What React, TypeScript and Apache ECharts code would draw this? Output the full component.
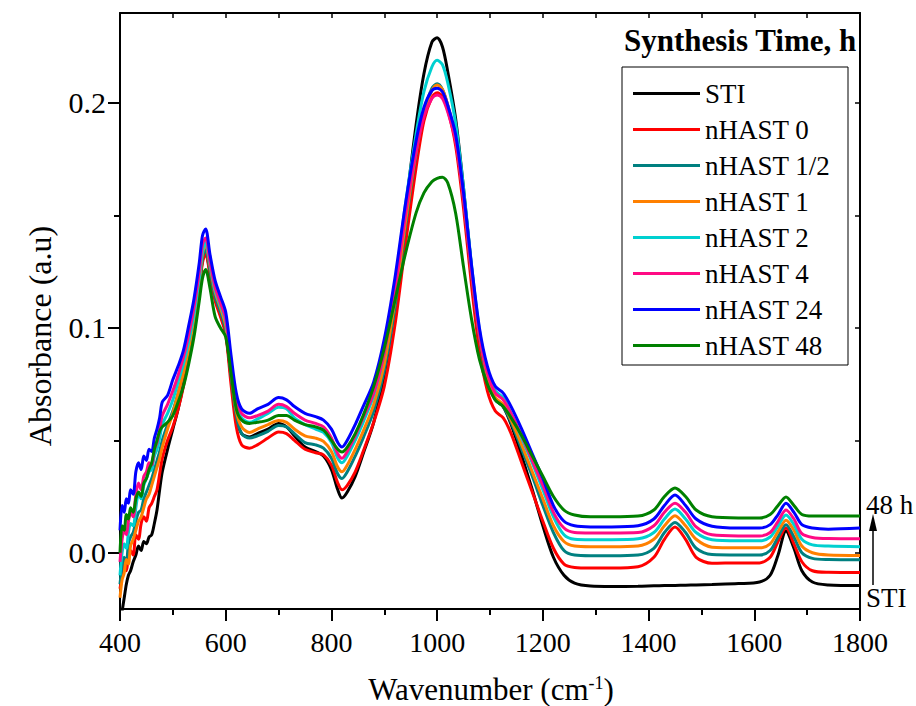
import React, { useEffect, useRef } from "react";
import * as echarts from "echarts";

// Wavenumber grid (cm-1)
const wavenumbers = [
  400, 404, 408, 412, 416, 420, 425, 430, 435, 440, 445, 450, 455, 460, 465, 470, 475, 480,
  490, 500, 510, 520, 530, 540, 550,
  556, 562, 570, 580, 590, 600, 610, 620, 630, 645, 660, 680, 700,
  715, 730, 750, 770, 785, 800, 812, 820, 830, 845, 860, 880, 900,
  920, 940, 960, 975, 990, 1000, 1010, 1020, 1035, 1050, 1065, 1080, 1095,
  1110, 1125, 1140, 1160, 1180, 1200, 1220, 1240, 1260, 1290, 1330, 1380,
  1410, 1430, 1450, 1470, 1490, 1520, 1570, 1610, 1630, 1645, 1660, 1675, 1690, 1710, 1740, 1800,
];

const sti = [
  -0.032, -0.026, -0.020, -0.014, -0.010, -0.008, -0.004, -0.001, 0.003, 0.001, 0.005, 0.004, 0.007, 0.008, 0.013, 0.019, 0.028, 0.036,
  0.046, 0.055, 0.064, 0.075, 0.088, 0.102, 0.118,
  0.130, 0.134, 0.125, 0.113, 0.106, 0.098, 0.078, 0.060, 0.053, 0.0515, 0.053, 0.055, 0.0575,
  0.056, 0.052, 0.047, 0.045, 0.043, 0.037, 0.028, 0.0243, 0.027, 0.034, 0.044, 0.058, 0.079,
  0.111, 0.152, 0.190, 0.213, 0.227, 0.229, 0.225, 0.214, 0.193, 0.162, 0.127, 0.097, 0.078,
  0.068, 0.065, 0.057, 0.043, 0.028, 0.012, -0.002, -0.010, -0.0135, -0.0148, -0.0150, -0.0149,
  -0.0147, -0.0146, -0.0145, -0.0144, -0.0143, -0.0141, -0.0137, -0.0130, -0.010, -0.001, 0.0097, 0.002, -0.008, -0.0130, -0.0143, -0.0146,
];

const nhast0 = [
  -0.016, -0.010, -0.004, -0.008, -0.002, 0.001, -0.001, 0.008, 0.006, 0.013, 0.016, 0.014, 0.020, 0.022, 0.025, 0.028, 0.035, 0.042,
  0.050, 0.056, 0.064, 0.074, 0.087, 0.101, 0.117,
  0.129, 0.133, 0.124, 0.112, 0.105, 0.097, 0.075, 0.056, 0.048, 0.0465, 0.048, 0.051, 0.0537,
  0.053, 0.050, 0.046, 0.0445, 0.0435, 0.039, 0.031, 0.028, 0.030, 0.036, 0.045, 0.058, 0.074,
  0.101, 0.137, 0.171, 0.192, 0.2025, 0.2045, 0.203, 0.197, 0.181, 0.153, 0.119, 0.090, 0.072,
  0.063, 0.060, 0.053, 0.040, 0.027, 0.014, 0.002, -0.005, -0.0065, -0.0068, -0.0068, -0.0062,
  -0.002, 0.006, 0.0115, 0.006, -0.002, -0.0047, -0.0045, -0.0045, -0.002, 0.005, 0.0110, 0.004, -0.004, -0.008, -0.0087, -0.0088,
];

const nhastHalf = [
  -0.014, -0.006, -0.002, -0.004, 0.004, 0.007, 0.009, 0.014, 0.018, 0.019, 0.024, 0.027, 0.030, 0.033, 0.037, 0.041, 0.045, 0.050,
  0.057, 0.063, 0.071, 0.080, 0.090, 0.103, 0.119,
  0.131, 0.135, 0.126, 0.114, 0.107, 0.099, 0.079, 0.061, 0.053, 0.051, 0.052, 0.054, 0.0566,
  0.056, 0.053, 0.049, 0.048, 0.0465, 0.042, 0.035, 0.033, 0.036, 0.043, 0.051, 0.063, 0.081,
  0.109, 0.145, 0.177, 0.196, 0.2065, 0.2085, 0.206, 0.199, 0.184, 0.157, 0.124, 0.096, 0.078,
  0.068, 0.065, 0.058, 0.046, 0.034, 0.021, 0.009, 0.001, -0.001, -0.0013, -0.0013, -0.001,
  0.002, 0.009, 0.0135, 0.009, 0.002, -0.0008, -0.001, -0.001, 0.001, 0.007, 0.0125, 0.007, 0.000, -0.0025, -0.003, -0.0031,
];

const nhast1 = [
  -0.020, -0.012, -0.009, -0.003, -0.005, 0.003, 0.006, 0.010, 0.014, 0.016, 0.020, 0.024, 0.026, 0.030, 0.034, 0.038, 0.042, 0.047,
  0.055, 0.062, 0.071, 0.080, 0.091, 0.104, 0.120,
  0.133, 0.137, 0.128, 0.116, 0.109, 0.101, 0.081, 0.063, 0.056, 0.0535, 0.055, 0.057, 0.0588,
  0.058, 0.055, 0.052, 0.051, 0.0495, 0.045, 0.038, 0.036, 0.039, 0.046, 0.054, 0.066, 0.084,
  0.112, 0.147, 0.178, 0.196, 0.2055, 0.208, 0.206, 0.199, 0.184, 0.158, 0.125, 0.097, 0.079,
  0.069, 0.066, 0.059, 0.048, 0.036, 0.024, 0.012, 0.005, 0.003, 0.0027, 0.0027, 0.003,
  0.006, 0.012, 0.0165, 0.012, 0.006, 0.0025, 0.0022, 0.0022, 0.004, 0.0095, 0.0145, 0.010, 0.003, 0.000, -0.001, -0.0012,
];

const nhast2 = [
  -0.010, 0.000, 0.004, 0.002, 0.009, 0.013, 0.012, 0.020, 0.026, 0.024, 0.030, 0.033, 0.036, 0.037, 0.043, 0.046, 0.051, 0.057,
  0.062, 0.068, 0.076, 0.084, 0.094, 0.106, 0.122,
  0.134, 0.138, 0.129, 0.117, 0.110, 0.103, 0.084, 0.067, 0.060, 0.058, 0.0595, 0.062, 0.0647,
  0.064, 0.060, 0.057, 0.055, 0.0535, 0.049, 0.042, 0.040, 0.043, 0.050, 0.058, 0.070, 0.089,
  0.118, 0.155, 0.186, 0.205, 0.216, 0.219, 0.217, 0.209, 0.191, 0.162, 0.128, 0.099, 0.081,
  0.072, 0.069, 0.062, 0.051, 0.040, 0.028, 0.016, 0.008, 0.006, 0.0058, 0.0058, 0.0062,
  0.009, 0.015, 0.0195, 0.015, 0.009, 0.0058, 0.0053, 0.0053, 0.007, 0.012, 0.0168, 0.0125, 0.006, 0.0035, 0.003, 0.0027,
];

const nhast4 = [
  -0.004, 0.006, 0.010, 0.008, 0.014, 0.018, 0.016, 0.026, 0.031, 0.028, 0.034, 0.036, 0.040, 0.039, 0.046, 0.049, 0.055, 0.061,
  0.066, 0.072, 0.079, 0.087, 0.097, 0.109, 0.125,
  0.137, 0.140, 0.130, 0.118, 0.111, 0.104, 0.085, 0.068, 0.062, 0.060, 0.061, 0.063, 0.066,
  0.065, 0.062, 0.059, 0.0575, 0.056, 0.051, 0.044, 0.042, 0.045, 0.052, 0.060, 0.071, 0.089,
  0.116, 0.150, 0.178, 0.194, 0.202, 0.2035, 0.202, 0.196, 0.183, 0.157, 0.125, 0.097, 0.080,
  0.071, 0.068, 0.062, 0.052, 0.041, 0.030, 0.018, 0.011, 0.009, 0.0088, 0.0088, 0.009,
  0.012, 0.018, 0.022, 0.018, 0.0115, 0.008, 0.0075, 0.0075, 0.009, 0.014, 0.019, 0.015, 0.0085, 0.0068, 0.0063, 0.0062,
];

const nhast24 = [
  0.010, 0.021, 0.018, 0.024, 0.022, 0.028, 0.026, 0.036, 0.040, 0.037, 0.043, 0.041, 0.046, 0.045, 0.051, 0.055, 0.060, 0.067,
  0.070, 0.077, 0.083, 0.090, 0.101, 0.113, 0.129,
  0.141, 0.144, 0.133, 0.121, 0.114, 0.107, 0.088, 0.071, 0.064, 0.062, 0.064, 0.066, 0.069,
  0.068, 0.065, 0.062, 0.0605, 0.059, 0.055, 0.049, 0.047, 0.050, 0.057, 0.065, 0.076, 0.095,
  0.122, 0.155, 0.183, 0.198, 0.2055, 0.2065, 0.205, 0.199, 0.186, 0.160, 0.128, 0.100, 0.083,
  0.074, 0.071, 0.065, 0.055, 0.044, 0.033, 0.021, 0.014, 0.012, 0.0115, 0.0115, 0.012,
  0.015, 0.021, 0.0257, 0.021, 0.015, 0.0118, 0.011, 0.011, 0.0125, 0.017, 0.022, 0.018, 0.0125, 0.011, 0.0105, 0.011,
];

const nhast48 = [
  0.000, 0.012, 0.010, 0.017, 0.015, 0.020, 0.018, 0.024, 0.027, 0.025, 0.031, 0.033, 0.037, 0.040, 0.046, 0.050, 0.054, 0.056,
  0.058, 0.061, 0.067, 0.074, 0.084, 0.096, 0.112,
  0.122, 0.126, 0.118, 0.105, 0.100, 0.096, 0.080, 0.064, 0.059, 0.0575, 0.058, 0.059, 0.061,
  0.061, 0.059, 0.057, 0.056, 0.0545, 0.050, 0.046, 0.0448, 0.047, 0.053, 0.061, 0.074, 0.091,
  0.112, 0.133, 0.151, 0.160, 0.165, 0.1665, 0.167, 0.1645, 0.151, 0.127, 0.104, 0.086, 0.075,
  0.068, 0.065, 0.060, 0.052, 0.043, 0.034, 0.025, 0.019, 0.0168, 0.016, 0.016, 0.0163,
  0.019, 0.025, 0.0288, 0.025, 0.019, 0.016, 0.0155, 0.0155, 0.017, 0.021, 0.0248, 0.021, 0.017, 0.0163, 0.0163, 0.0164,
];

const seriesNames = ["STI", "nHAST 0", "nHAST 1/2", "nHAST 1", "nHAST 2", "nHAST 4", "nHAST 24", "nHAST 48"];
const seriesValues = [sti, nhast0, nhastHalf, nhast1, nhast2, nhast4, nhast24, nhast48];
const seriesColors = ["#000000", "#ff0000", "#008080", "#ff8000", "#00d0d0", "#ff0a84", "#0000ff", "#008000"];

const xMin = 400;
const xMax = 1800;
const xInterval = 200;
const yMin = -0.025;
const yMax = 0.24;
const yMajorTicks = [0, 0.1, 0.2];
const yMinorTicks = [0.05, 0.15];
const yRightTicks = [0, 0.05, 0.1, 0.15, 0.2];

const FONT = "Liberation Serif";

export default function App() {
  const ref = useRef<HTMLDivElement>(null);

  useEffect(() => {
    if (!ref.current) return;
    const chart = echarts.init(ref.current, undefined, { renderer: "svg" });
    const axisLineStyle = { color: "#000", width: 2 };

    const option: any = {
      animation: false,
      backgroundColor: "#ffffff",
      textStyle: { fontFamily: FONT },
      grid: { left: 120, top: 13, width: 740, height: 596, containLabel: false },
      xAxis: [
        {
          type: "value",
          position: "bottom",
          min: xMin,
          max: xMax,
          interval: xInterval,
          axisLine: { show: true, onZero: false, lineStyle: axisLineStyle },
          axisTick: { show: true, inside: false, length: 12, lineStyle: axisLineStyle },
          minorTick: { show: true, splitNumber: 2, length: 6, lineStyle: axisLineStyle },
          axisLabel: {
            fontSize: 28,
            fontFamily: FONT,
            color: "#000",
            margin: 19,
            formatter: (v: number) => String(v),
          },
          splitLine: { show: false },
          minorSplitLine: { show: false },
        },
        {
          type: "value",
          position: "top",
          min: xMin,
          max: xMax,
          interval: 100,
          axisLine: { show: true, onZero: false, lineStyle: axisLineStyle },
          axisTick: { show: true, inside: true, length: 5, lineStyle: { color: "#000", width: 1.5 } },
          axisLabel: { show: false },
          splitLine: { show: false },
        },
      ],
      yAxis: [
        {
          type: "value",
          position: "left",
          min: yMin,
          max: yMax,
          axisLine: { show: true, onZero: false, lineStyle: axisLineStyle },
          axisTick: { show: true, inside: false, length: 12, lineStyle: axisLineStyle, customValues: yMajorTicks },
          axisLabel: {
            show: true,
            customValues: yMajorTicks,
            formatter: (v: number) => v.toFixed(1),
            fontSize: 30,
            fontFamily: FONT,
            color: "#000",
            margin: 14,
          },
          splitLine: { show: false },
        },
        {
          type: "value",
          position: "left",
          min: yMin,
          max: yMax,
          axisLine: { show: false, onZero: false },
          axisTick: { show: true, inside: false, length: 6, lineStyle: axisLineStyle, customValues: yMinorTicks },
          axisLabel: { show: false },
          splitLine: { show: false },
        },
        {
          type: "value",
          position: "right",
          min: yMin,
          max: yMax,
          axisLine: { show: true, onZero: false, lineStyle: axisLineStyle },
          axisTick: { show: true, inside: true, length: 5, lineStyle: { color: "#000", width: 1.5 }, customValues: yRightTicks },
          axisLabel: { show: false },
          splitLine: { show: false },
        },
      ],
      legend: {
        orient: "vertical",
        left: 622,
        top: 67,
        padding: [13, 10, 14, 11],
        itemGap: 9,
        itemWidth: 67,
        itemHeight: 3,
        icon: "rect",
        selectedMode: false,
        data: seriesNames,
        textStyle: { fontSize: 27, fontFamily: FONT, color: "#000", lineHeight: 26 },
      },
      series: seriesNames.map((name, i) => ({
        name,
        type: "line",
        xAxisIndex: 0,
        yAxisIndex: 0,
        showSymbol: false,
        symbol: "none",
        smooth: 0.3,
        clip: true,
        color: seriesColors[i],
        lineStyle: { color: seriesColors[i], width: 3 },
        data: wavenumbers.map((w, j) => [w, seriesValues[i][j]]),
      })),
      graphic: [
        {
          type: "rect",
          shape: { x: 622, y: 67, width: 226, height: 298 },
          style: { fill: "none", stroke: "#000", lineWidth: 1 },
          z: 10,
        },
        {
          type: "text",
          x: 624,
          y: 40,
          style: {
            text: "Synthesis Time, h",
            fontSize: 31,
            fontWeight: "bold",
            fontFamily: FONT,
            fill: "#000",
            align: "left",
            verticalAlign: "middle",
          },
        },
        {
          type: "text",
          x: 40,
          y: 336,
          rotation: Math.PI / 2,
          style: {
            text: "Absorbance (a.u)",
            fontSize: 32,
            fontFamily: FONT,
            fill: "#000",
            align: "center",
            verticalAlign: "middle",
          },
        },
        {
          type: "text",
          x: 491,
          y: 689,
          style: {
            text: "Wavenumber (cm{sup|-1})",
            fontSize: 31,
            fontFamily: FONT,
            fill: "#000",
            align: "center",
            verticalAlign: "middle",
            rich: {
              sup: { fontSize: 18, fontFamily: FONT, fill: "#000", verticalAlign: "top", padding: [0, 0, 12, 0] },
            },
          },
        },
        {
          type: "text",
          x: 866,
          y: 505,
          style: {
            text: "48 h",
            fontSize: 27,
            fontFamily: FONT,
            fill: "#000",
            align: "left",
            verticalAlign: "middle",
          },
        },
        {
          type: "text",
          x: 866,
          y: 598,
          style: {
            text: "STI",
            fontSize: 27,
            fontFamily: FONT,
            fill: "#000",
            align: "left",
            verticalAlign: "middle",
          },
        },
        {
          type: "line",
          shape: { x1: 873, y1: 585, x2: 873, y2: 528 },
          style: { stroke: "#000", lineWidth: 1.5 },
        },
        {
          type: "polygon",
          shape: { points: [[873, 514], [869, 531], [877, 531]] },
          style: { fill: "#000" },
        },
      ],
    };

    chart.setOption(option);
    return () => chart.dispose();
  }, []);

  return (
    <div
      ref={ref}
      style={{ position: "absolute", left: 0, top: 0, width: 916, height: 706, background: "#fff" }}
    />
  );
}
